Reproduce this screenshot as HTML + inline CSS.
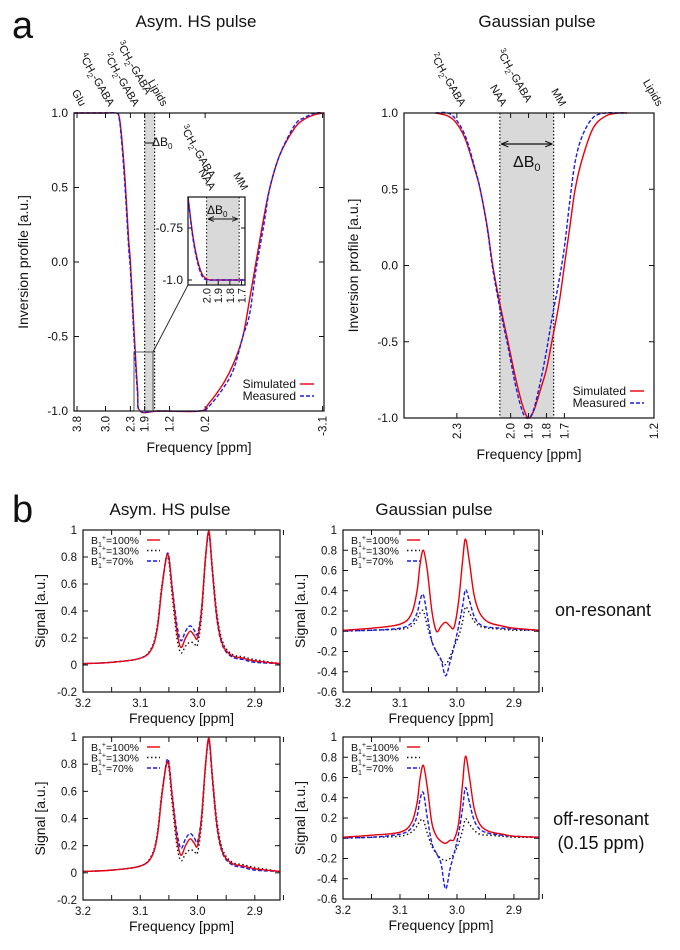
<!DOCTYPE html>
<html><head><meta charset="utf-8"><style>
body{margin:0;background:#fff}
svg{display:block;font-family:"Liberation Sans",sans-serif}
</style></head><body>
<svg id="fig" width="680" height="950" viewBox="0 0 680 950"></svg>
<script>
// ---- Panel a: inversion profiles ----
const hsFreq=[3.88,3.0,2.7,2.62,2.55,2.45,2.35,2.3,2.2,2.1,2.03,1.5,0.35,0.1,-0.3,-0.6,-0.86,-1.05,-1.23,-1.45,-1.62,-1.9,-2.32,-2.6,-2.9,-3.14];
const hsSim=[1,1,1,0.98,0.85,0.55,0.15,0,-0.45,-0.85,-1,-1,-1,-0.95,-0.82,-0.68,-0.5,-0.25,0,0.3,0.5,0.72,0.9,0.96,0.99,1];
const hsMeas=[1,1,1,0.97,0.82,0.5,0.1,-0.05,-0.5,-0.88,-1,-1,-1,-0.97,-0.85,-0.72,-0.5,-0.35,-0.05,0.25,0.5,0.72,0.92,0.97,1,1];
const insetFreq=[2.16,2.12,2.08,2.04,2.0,1.95,1.9,1.67];
const insetSim=[-0.6,-0.78,-0.9,-0.97,-0.995,-1,-1,-1];
const insetMeas=[-0.6,-0.79,-0.91,-0.98,-1,-1,-1,-1];
const hsTicks=[3.8,3.0,2.3,1.9,1.2,0.2,-3.1];
const gaFreq=[2.42,2.35,2.3,2.25,2.2,2.17,2.13,2.1,2.06,2.015,1.97,1.93,1.9,1.87,1.83,1.8,1.77,1.73,1.7,1.67,1.64,1.6,1.54,1.47,1.4,1.35];
const gaSim=[1,0.98,0.93,0.82,0.63,0.5,0.25,0.0,-0.25,-0.5,-0.75,-0.93,-1,-0.95,-0.8,-0.68,-0.5,-0.25,0,0.25,0.5,0.7,0.9,0.98,1,1];
const gaMeas=[1,1,0.95,0.84,0.64,0.5,0.24,-0.02,-0.28,-0.53,-0.8,-0.97,-1,-0.94,-0.74,-0.56,-0.35,-0.1,0.12,0.42,0.68,0.85,0.97,1,1,1];
const gaTicks=[2.3,2.0,1.9,1.8,1.7,1.2];
const invTicks=[-1.0,-0.5,0.0,0.5,1.0];
// ---- Panel b: spectra ----
const hsSpecFreq=[3.2,3.15,3.1,3.08,3.07,3.062,3.052,3.044,3.036,3.029,3.021,3.013,3.006,3.0,2.993,2.986,2.98,2.974,2.966,2.956,2.94,2.92,2.9,2.856];
const hsOn100=[0.01,0.02,0.05,0.12,0.28,0.58,0.82,0.55,0.25,0.13,0.2,0.25,0.22,0.2,0.4,0.8,0.99,0.7,0.35,0.15,0.07,0.05,0.03,0.01];
const hsOn130=[0.01,0.02,0.05,0.13,0.3,0.6,0.8,0.5,0.2,0.09,0.14,0.17,0.16,0.15,0.36,0.78,0.98,0.72,0.38,0.17,0.08,0.06,0.04,0.01];
const hsOn70=[0.01,0.02,0.05,0.12,0.28,0.58,0.83,0.57,0.3,0.18,0.25,0.29,0.26,0.23,0.42,0.8,0.97,0.68,0.33,0.14,0.06,0.04,0.02,0.01];
const hsOff100=[0.01,0.02,0.05,0.12,0.28,0.58,0.82,0.55,0.25,0.13,0.2,0.25,0.22,0.2,0.4,0.8,0.99,0.7,0.35,0.15,0.07,0.05,0.03,0.01];
const hsOff130=[0.01,0.02,0.05,0.13,0.3,0.6,0.81,0.5,0.2,0.09,0.14,0.17,0.16,0.15,0.36,0.78,0.98,0.72,0.38,0.17,0.08,0.06,0.04,0.01];
const hsOff70=[0.01,0.02,0.05,0.12,0.28,0.58,0.84,0.57,0.3,0.18,0.25,0.29,0.26,0.23,0.42,0.8,0.97,0.68,0.33,0.14,0.06,0.04,0.02,0.01];
const gaSpecFreq=[3.2,3.15,3.1,3.08,3.07,3.065,3.059,3.052,3.044,3.036,3.028,3.02,3.012,3.005,2.997,2.99,2.985,2.978,2.97,2.96,2.945,2.92,2.9,2.856];
const gaOn100=[0.01,0.03,0.07,0.17,0.4,0.65,0.8,0.6,0.2,0.0,0.05,0.09,0.05,0.04,0.3,0.7,0.91,0.68,0.36,0.18,0.09,0.05,0.03,0.01];
const gaOn130=[0.0,0.01,0.02,0.05,0.12,0.18,0.2,0.05,-0.1,-0.2,-0.28,-0.33,-0.25,-0.15,-0.05,0.1,0.24,0.18,0.1,0.05,0.03,0.02,0.01,0.01];
const gaOn70=[0.005,0.01,0.03,0.08,0.18,0.3,0.36,0.15,-0.1,-0.2,-0.28,-0.44,-0.3,-0.15,0.05,0.25,0.41,0.3,0.15,0.07,0.04,0.03,0.02,0.01];
const gaOff100=[0.01,0.03,0.06,0.15,0.35,0.58,0.72,0.5,0.15,0.02,-0.03,-0.05,-0.02,-0.01,0.15,0.55,0.81,0.6,0.3,0.14,0.07,0.04,0.02,0.01];
const gaOff130=[0,0.01,0.02,0.06,0.12,0.17,0.18,0.05,-0.08,-0.15,-0.2,-0.22,-0.2,-0.15,-0.05,0.08,0.19,0.14,0.08,0.04,0.03,0.02,0.01,0.01];
const gaOff70=[0.005,0.01,0.04,0.1,0.22,0.38,0.45,0.2,-0.05,-0.15,-0.25,-0.5,-0.3,-0.15,0.05,0.3,0.5,0.35,0.18,0.09,0.05,0.03,0.02,0.01];
const specXTicks=[3.2,3.1,3.0,2.9];
const hsSpecYTicks=[-0.2,0,0.2,0.4,0.6,0.8,1];
const gaSpecYTicks=[-0.6,-0.4,-0.2,0,0.2,0.4,0.6,0.8,1];

const NS="http://www.w3.org/2000/svg";
const svg=document.getElementById('fig');
function el(tag,attrs,parent,text){const e=document.createElementNS(NS,tag);for(const k in attrs)e.setAttribute(k,attrs[k]);if(text!==undefined)e.textContent=text;(parent||svg).appendChild(e);return e;}
function lin(d0,d1,r0,r1){return v=>r0+(v-d0)*(r1-r0)/(d1-d0);}
function smooth(pts){let d='M'+pts[0][0].toFixed(2)+','+pts[0][1].toFixed(2);
 for(let i=0;i<pts.length-1;i++){const p0=pts[i-1]||pts[i],p1=pts[i],p2=pts[i+1],p3=pts[i+2]||p2;
  const c1=[p1[0]+(p2[0]-p0[0])/6,p1[1]+(p2[1]-p0[1])/6],c2=[p2[0]-(p3[0]-p1[0])/6,p2[1]-(p3[1]-p1[1])/6];
  d+=' C'+c1.map(v=>v.toFixed(2)).join(',')+' '+c2.map(v=>v.toFixed(2)).join(',')+' '+p2[0].toFixed(2)+','+p2[1].toFixed(2);}
 return d;}
function series(g,xs,ys,X,Y,style,name){const p=el('path',Object.assign({d:smooth(xs.map((x,i)=>[X(x),Y(ys[i])])),fill:'none'},style),g);
 
 return p;}
const RED={stroke:'#e8000b','stroke-width':1.4};
const BLUE={stroke:'#1a1aee','stroke-width':1.4,'stroke-dasharray':'4,2'};
const BLACK={stroke:'#111','stroke-width':1.4,'stroke-dasharray':'1.5,2.5'};

function txt(x,y,s,size,opts,name){const t=el('text',Object.assign({x:x,y:y,'font-size':size,fill:'#111'},opts||{}),svg);t.innerHTML=s;
 
 return t;}

txt(12,38,'a',38,{},'panel-label-a');
txt(12,522,'b',38,{},'panel-label-b');
txt(196,27,'Asym. HS pulse',17,{'text-anchor':'middle'},'title-asym-hs');
txt(537,27,'Gaussian pulse',17,{'text-anchor':'middle'},'title-gaussian');
txt(170,515,'Asym. HS pulse',17,{'text-anchor':'middle'},'title-b-asym-hs');
txt(434,515,'Gaussian pulse',17,{'text-anchor':'middle'},'title-b-gaussian');
txt(603,616,'on-resonant',18,{'text-anchor':'middle'},'label-on-resonant');
txt(601,825,'off-resonant',18,{'text-anchor':'middle'},'label-off-resonant');
txt(601,849,'(0.15 ppm)',18,{'text-anchor':'middle'},'label-offset');

function frame(g,L,T,R,B){const r=el('rect',{x:L,y:T,width:R-L,height:B-T,fill:'none',stroke:'#111','stroke-width':1.2},g);
 
 }

function invPanel(name,L,T,R,B,x0,x1,ticks,freq,sim,meas,shade,topLabels){
 const g=el('g',{},svg);
 const X=lin(x0,x1,L,R),Y=lin(-1,1,B,T);
 const sh=el('rect',{x:X(shade[0]),y:T,width:X(shade[1])-X(shade[0]),height:B-T,fill:'#d9d9d9'},g);
 
 [shade[0],shade[1]].forEach(v=>{const l=el('line',{x1:X(v),x2:X(v),y1:T,y2:B,stroke:'#111','stroke-dasharray':'1.5,2','stroke-width':1.2},g);
  });
 invTicks.forEach(v=>{const y=Y(v);el('line',{x1:L,x2:L+5,y1:y,y2:y,stroke:'#111'},g);el('line',{x1:R,x2:R-5,y1:y,y2:y,stroke:'#111'},g);
  const t=el('text',{x:L-6,y:y+4,'font-size':12,'text-anchor':'end',fill:'#111'},g,v.toFixed(1));
  });
 ticks.forEach(v=>{const x=X(v);el('line',{x1:x,x2:x,y1:B,y2:B-5,stroke:'#111'},g);el('line',{x1:x,x2:x,y1:T,y2:T+5,stroke:'#111'},g);
  const t=el('text',{x:0,y:0,'font-size':11.5,'text-anchor':'end',fill:'#111',transform:`translate(${x+4},${B+5}) rotate(-90)`},g,v.toFixed(1));
  });
 series(g,freq,sim,X,Y,RED,'simulated-curve');
 series(g,freq,meas,X,Y,BLUE,'measured-curve');
 frame(g,L,T,R,B);
 topLabels.forEach(([v,s,dy])=>{const t=el('text',{x:0,y:0,'font-size':11,'text-anchor':'end',fill:'#111',transform:`translate(${X(v)+3},${T-6-(dy||0)}) rotate(60)`},g);t.innerHTML=s;
  });
 const lg=el('g',{},g);
 el('text',{x:R-28,y:B-23,'font-size':12,'text-anchor':'end',fill:'#111'},lg,'Simulated');
 el('text',{x:R-28,y:B-11,'font-size':12,'text-anchor':'end',fill:'#111'},lg,'Measured');
 el('line',Object.assign({x1:R-24,x2:R-10,y1:B-27,y2:B-27},RED),lg);
 el('line',Object.assign({x1:R-24,x2:R-10,y1:B-15,y2:B-15},BLUE),lg);
 const yt=el('text',{x:0,y:0,'font-size':14,'text-anchor':'middle',fill:'#111',transform:`translate(${L-46},${(T+B)/2}) rotate(-90)`},g,'Inversion profile [a.u.]');
 
 const xt=el('text',{x:(L+R)/2,y:B+41,'font-size':14,'text-anchor':'middle',fill:'#111'},g,'Frequency [ppm]');
 
 return {g,X,Y};
}
const SUB2='<tspan dy="3" font-size="8">2</tspan><tspan dy="-3">';
function gaba(n){return `<tspan dy="-4" font-size="8">${n}</tspan><tspan dy="4">CH</tspan>${SUB2}-GABA</tspan>`;}
const pa=invPanel('hs-inversion-panel',74,113,324,411,3.885,-3.14,hsTicks,hsFreq,hsSim,hsMeas,[1.9,1.62],
 [[3.8,'Glu'],[3.0,gaba(4)],[2.3,gaba(2)],[1.95,gaba(3),12],[1.5,'Lipids']]);
el('line',{x1:pa.X(1.9),x2:pa.X(1.62),y1:143,y2:143,stroke:'#111'},pa.g);
txt(152,146,'ΔB<tspan dy="3" font-size="8">0</tspan>',12,{},'delta-b0-label');
el('rect',{x:134,y:352,width:19,height:59,fill:'none',stroke:'#444','stroke-width':0.9},pa.g);
el('line',{x1:153,y1:352,x2:188,y2:285,stroke:'#222','stroke-width':0.9},pa.g);
(function(){const g=el('g',{},svg);
 const L=188,R=245,T=197,B=285;const X=lin(2.16,1.67,L,R),Y=lin(-1.0,-0.75,280,228);
 el('rect',{x:L,y:T,width:R-L,height:B-T,fill:'#fff'},g);
 el('rect',{x:X(2.0),y:T,width:X(1.72)-X(2.0),height:B-T,fill:'#d9d9d9'},g);
 [2.0,1.72].forEach(v=>el('line',{x1:X(v),x2:X(v),y1:T,y2:B,stroke:'#111','stroke-dasharray':'1.5,2'},g));
 [-1.0,-0.75].forEach(v=>{el('line',{x1:L,x2:L+4,y1:Y(v),y2:Y(v),stroke:'#111'},g);el('line',{x1:R,x2:R-4,y1:Y(v),y2:Y(v),stroke:'#111'},g);
  el('text',{x:L-5,y:Y(v)+4,'font-size':12,'text-anchor':'end',fill:'#111'},g,v===-1?'-1.0':'-0.75');});
 [2.0,1.9,1.8,1.7].forEach(v=>{el('line',{x1:X(v),x2:X(v),y1:B,y2:B-4,stroke:'#111'},g);
  el('text',{x:0,y:0,'font-size':11,'text-anchor':'end',fill:'#111',transform:`translate(${X(v)+4},${B+3}) rotate(-90)`},g,v.toFixed(1));});
 series(g,insetFreq,insetSim,X,Y,RED,'inset-simulated');
 series(g,insetFreq,insetMeas,X,Y,BLUE,'inset-measured');
 el('rect',{x:L,y:T,width:R-L,height:B-T,fill:'none',stroke:'#111','stroke-width':1.2},g);
 el('line',{x1:X(2.0)+2,x2:X(1.72)-2,y1:219,y2:219,stroke:'#111','marker-start':'url(#arr)','marker-end':'url(#arr)'},g);
 el('text',{x:207,y:214,'font-size':12,fill:'#111'},g).innerHTML='ΔB<tspan dy="3" font-size="8">0</tspan>';
 [[2.0,gaba(3),12],[2.0,'NAA'],[1.72,'MM']].forEach(([v,s,dy])=>{const t=el('text',{x:0,y:0,'font-size':11,'text-anchor':'end',fill:'#111',transform:`translate(${X(v)+3},${T-6-(dy||0)}) rotate(60)`},g);t.innerHTML=s;});
})();
const defs=el('defs',{},svg);
const mk=el('marker',{id:'arr',viewBox:'0 0 10 10',refX:9,refY:5,markerWidth:6,markerHeight:6,orient:'auto-start-reverse'},defs);
el('path',{d:'M0,1 L10,5 L0,9',fill:'none',stroke:'#111','stroke-width':1.5},mk);

const pb=invPanel('gaussian-inversion-panel',404,113,654,418,2.595,1.2,gaTicks,gaFreq,gaSim,gaMeas,[2.06,1.76],
 [[2.3,gaba(2)],[2.07,'NAA'],[1.93,gaba(3),4],[1.74,'MM'],[1.2,'Lipids']]);
el('line',{x1:pb.X(2.06)+2,x2:pb.X(1.76)-2,y1:144,y2:144,stroke:'#111','stroke-width':1.2,'marker-start':'url(#arr)','marker-end':'url(#arr)'},pb.g);
txt(513,167,'ΔB<tspan dy="4" font-size="11">0</tspan>',16,{},'delta-b0-label-gaussian');

function specPanel(name,L,T,R,B,ymin,yticks,freq,s100,s130,s70){
 const g=el('g',{},svg);
 const X=lin(3.2,2.9,L,L+(R-L)*0.3/0.344),Y=lin(ymin,1,B,T);
 yticks.forEach(v=>{const y=Y(v);el('line',{x1:L,x2:L+5,y1:y,y2:y,stroke:'#111'},g);el('line',{x1:R,x2:R-5,y1:y,y2:y,stroke:'#111'},g);
  const t=el('text',{x:L-6,y:y+4,'font-size':11.5,'text-anchor':'end',fill:'#111'},g,String(+v.toFixed(1)));
  });
 for(let v=3.2;v>2.85;v-=0.05){const x=X(v);el('line',{x1:x,x2:x,y1:B,y2:B-5,stroke:'#111'},g);el('line',{x1:x,x2:x,y1:T,y2:T+5,stroke:'#111'},g);}
 specXTicks.forEach(v=>{const t=el('text',{x:X(v),y:B+15,'font-size':11.5,'text-anchor':'middle',fill:'#111'},g,v.toFixed(1));
  });
 series(g,freq,s130,X,Y,BLACK,'b1-130-curve');
 series(g,freq,s70,X,Y,BLUE,'b1-70-curve');
 series(g,freq,s100,X,Y,RED,'b1-100-curve');
 frame(g,L,T,R,B);
 const lg=el('g',{},g);
 [['100%',RED],['130%',BLACK],['70%',BLUE]].forEach(([s,st],i)=>{const y=T+14+i*10.5;
  el('text',{x:L+8,y:y,'font-size':10.5,fill:'#111'},lg).innerHTML=`B<tspan dy="3" font-size="7">1</tspan><tspan dy="-7" font-size="7">+</tspan><tspan dy="4">=${s}</tspan>`;
  el('line',Object.assign({x1:L+64,x2:L+77,y1:y-4,y2:y-4},st),lg);});
 const yt=el('text',{x:0,y:0,'font-size':14,'text-anchor':'middle',fill:'#111',transform:`translate(${L-38},${(T+B)/2}) rotate(-90)`},g,'Signal [a.u.]');
 
 const xt=el('text',{x:(L+R)/2,y:B+31,'font-size':14,'text-anchor':'middle',fill:'#111'},g,'Frequency [ppm]');
 
}
specPanel('hs-on-resonant-panel',83,530,280,692,-0.2,hsSpecYTicks,hsSpecFreq,hsOn100,hsOn130,hsOn70);
specPanel('gaussian-on-resonant-panel',343,530,539,692,-0.6,gaSpecYTicks,gaSpecFreq,gaOn100,gaOn130,gaOn70);
specPanel('hs-off-resonant-panel',83,737,280,900,-0.2,hsSpecYTicks,hsSpecFreq,hsOff100,hsOff130,hsOff70);
specPanel('gaussian-off-resonant-panel',343,737,539,899,-0.6,gaSpecYTicks,gaSpecFreq,gaOff100,gaOff130,gaOff70);
</script>
</body></html>
